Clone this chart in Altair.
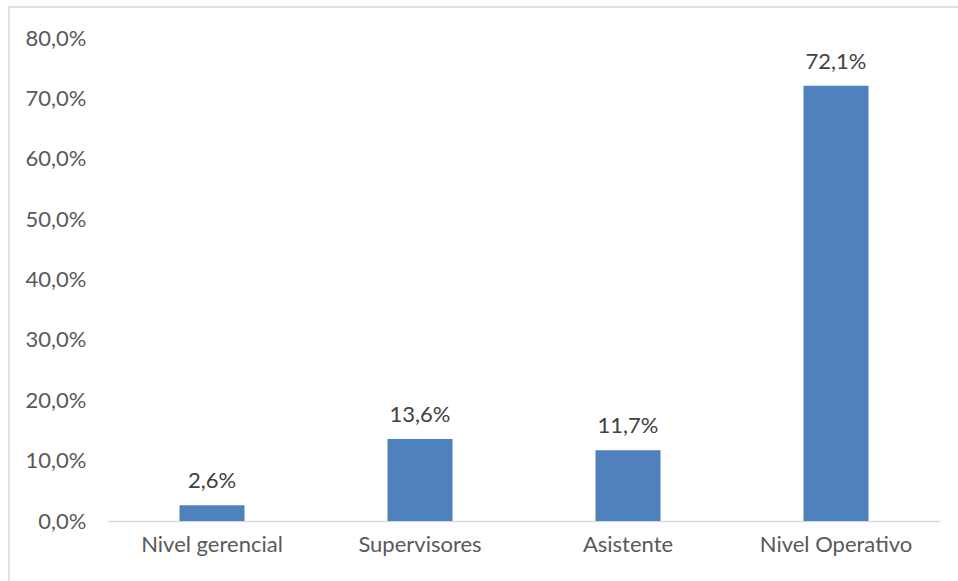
import altair as alt
import pandas as pd

categories = ["Nivel gerencial", "Supervisores", "Asistente", "Nivel Operativo"]
values = [0.026, 0.136, 0.117, 0.721]
y_ticks = [0.0, 0.1, 0.2, 0.3, 0.4, 0.5, 0.6, 0.7, 0.8]

df = pd.DataFrame({"cat": categories, "val": values})

FONT = "Lato"
FS = 22
W, H = 832, 483

x_enc = alt.X("cat:N", sort=categories, title=None,
              scale=alt.Scale(paddingInner=0.6875, paddingOuter=0.34375),
              axis=alt.Axis(labelAngle=0, ticks=False, domainColor="#D9D9D9", domainWidth=1.3,
                            labelFont=FONT, labelFontSize=FS, labelColor="#595959",
                            labelPadding=13))
y_enc = alt.Y("val:Q", title=None,
              scale=alt.Scale(domain=[0, 0.8], nice=False),
              axis=alt.Axis(values=y_ticks, grid=False, ticks=False, domain=False,
                            labelFont=FONT, labelFontSize=FS, labelColor="#595959",
                            labelPadding=22,
                            labelExpr="replace(format(datum.value, '.1%'), '.', ',')"))

base = alt.Chart(df)

bars = base.mark_bar(color="#4F81BD").encode(x=x_enc, y=y_enc)

labels = base.transform_calculate(
    lab="replace(format(datum.val, '.1%'), '.', ',')"
).mark_text(font=FONT, fontSize=FS, color="#404040", baseline="bottom", dy=-12).encode(
    x=alt.X("cat:N", sort=categories), y="val:Q", text="lab:N")

border = alt.Chart(pd.DataFrame({"a": [0]})).mark_rect(
    fill=None, stroke="#D9D9D9", strokeWidth=1.5
).encode(x=alt.value(-99), x2=alt.value(W + 40), y=alt.value(-31), y2=alt.value(H + 80))

chart = alt.layer(border, bars, labels).properties(
    width=W, height=H,
    autosize=alt.AutoSizeParams(type="none"),
    padding={"left": 108, "top": 38, "right": 18, "bottom": 60},
    background="white",
).configure_view(stroke=None)

chart.save("out.html", embed_options={"renderer": "svg", "actions": False})
